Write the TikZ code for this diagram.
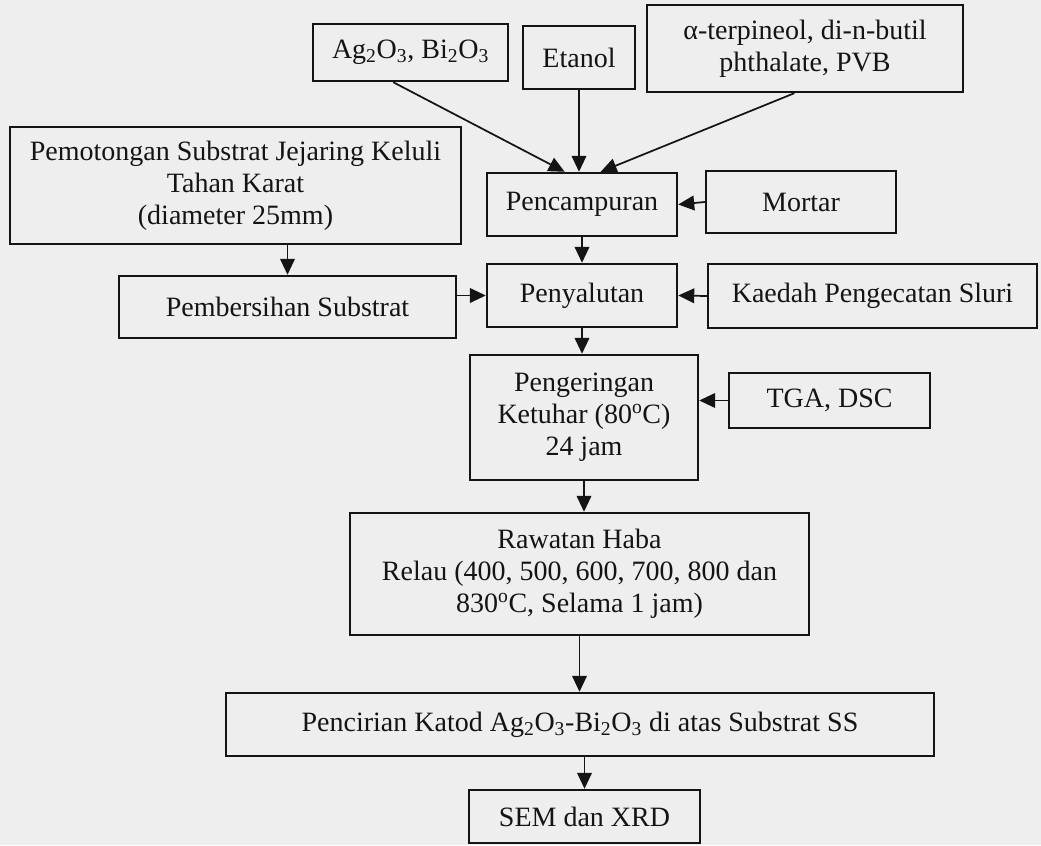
\documentclass[tikz,border=0pt]{standalone}
\usepackage{fontspec}
\setmainfont{Liberation Serif}
\usetikzlibrary{arrows.meta}
\definecolor{PaperGrey}{HTML}{EEEEEE}
\definecolor{InkBlack}{HTML}{141414}

\begin{document}
\begin{tikzpicture}[x=0.75pt,y=-0.75pt,
  procbox/.style={draw=InkBlack,line width=1.8pt,align=center,inner sep=0pt,
    text=InkBlack,font=\fontsize{21}{24}\selectfont},
  flow/.style={draw=InkBlack,line width=1.3pt,-{Triangle[length=12pt,width=11pt]}}]
  \fill[PaperGrey] (0,0) rectangle (1041,845);
  \useasboundingbox (0,0) rectangle (1041,845);

  % bahan
  \node[procbox,minimum width=146.25pt,minimum height=42.75pt] (ag) at (410.5,52.5)
    {Ag\textsubscript{2}O\textsubscript{3}, Bi\textsubscript{2}O\textsubscript{3}};
  \node[procbox,minimum width=84pt,minimum height=47.25pt] (etanol) at (579,57.5) {Etanol};
  \node[procbox,minimum width=237pt,minimum height=65.25pt] (terp) at (805,48.5)
    {α-terpineol, di-n-butil\\phthalate, PVB};

  \node[procbox,minimum width=338.25pt,minimum height=87.75pt] (potong) at (235.5,185.5)
    {Pemotongan Substrat Jejaring Keluli\\Tahan Karat\\(diameter 25mm)};
  \node[procbox,minimum width=142.5pt,minimum height=47.25pt] (campur) at (582,204.5) {Pencampuran};
  \node[procbox,minimum width=142.5pt,minimum height=46.5pt] (mortar) at (801,202) {Mortar};

  \node[procbox,minimum width=252.75pt,minimum height=46.5pt] (bersih) at (287.5,307) {Pembersihan Substrat};
  \node[procbox,minimum width=142.5pt,minimum height=47.25pt] (salut) at (582,295.5) {Penyalutan};
  \node[procbox,minimum width=246.75pt,minimum height=48pt] (kaedah) at (872.5,296) {Kaedah Pengecatan Sluri};

  \node[procbox,minimum width=171pt,minimum height=93.75pt] (kering) at (584,417.5)
    {Pengeringan\\Ketuhar (80\textsuperscript{o}C)\\24 jam};
  \node[procbox,minimum width=150.75pt,minimum height=41.25pt] (tga) at (829.5,400.5) {TGA, DSC};

  \node[procbox,minimum width=344.25pt,minimum height=91.5pt] (haba) at (579.5,574)
    {Rawatan Haba\\Relau (400, 500, 600, 700, 800 dan\\830\textsuperscript{o}C, Selama 1 jam)};
  \node[procbox,minimum width=531pt,minimum height=47.25pt] (cirian) at (580,724.5)
    {Pencirian Katod Ag\textsubscript{2}O\textsubscript{3}-Bi\textsubscript{2}O\textsubscript{3} di atas Substrat SS};
  \node[procbox,minimum width=173.25pt,minimum height=39.75pt] (sem) at (584.5,816.5) {SEM dan XRD};

  % anak panah
  \draw[flow] ([xshift=-13pt]ag.south) -- ([xshift=-13pt]campur.north);
  \draw[flow] (etanol.south) -- (etanol.south |- campur.north);
  \draw[flow] ([xshift=-8pt]terp.south) -- ([xshift=14pt]campur.north);
  \draw[flow] (mortar.west) -- (campur.east);
  \draw[flow] (campur.south) -- (salut.north);
  \draw[flow] (bersih.north |- potong.south) -- (bersih.north);
  \draw[flow] (bersih.east |- salut.west) -- (salut.west);
  \draw[flow] (kaedah.west) -- (salut.east);
  \draw[flow] (salut.south) -- (salut.south |- kering.north);
  \draw[flow] (tga.west) -- (kering.east |- tga.west);
  \draw[flow] (kering.south) -- (kering.south |- haba.north);
  \draw[flow] (haba.south) -- (haba.south |- cirian.north);
  \draw[flow] (sem.north |- cirian.south) -- (sem.north);

\end{tikzpicture}
\end{document}
